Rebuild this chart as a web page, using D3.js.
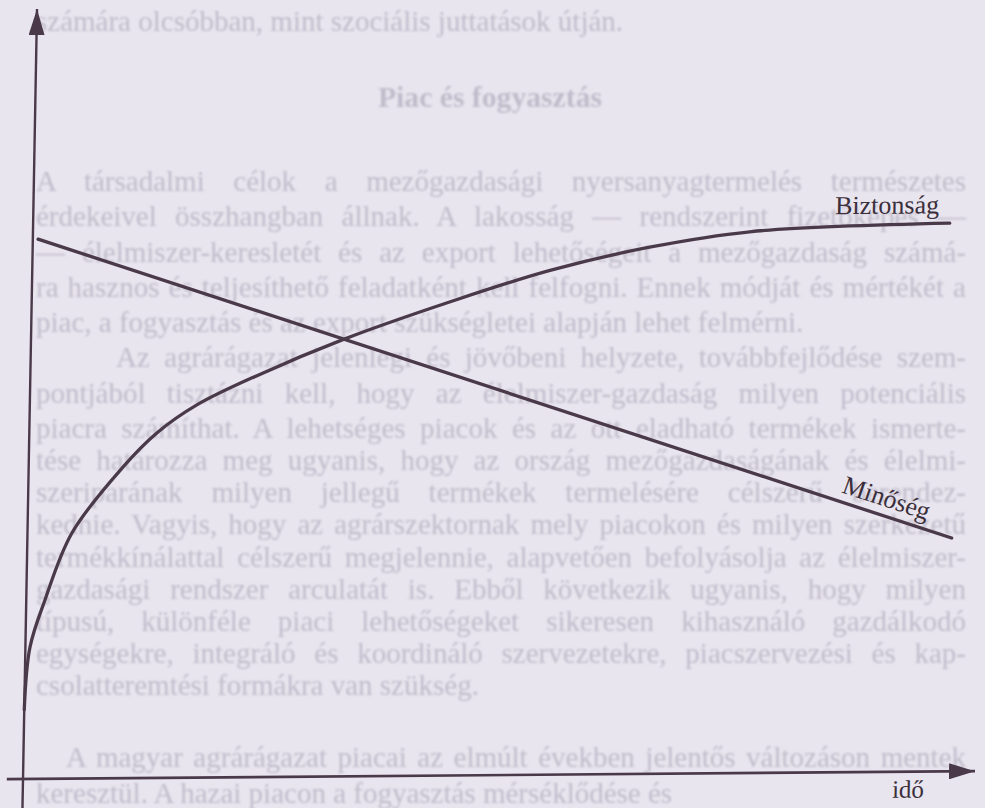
<!DOCTYPE html>
<html>
<head>
<meta charset="utf-8">
<script src="https://cdn.jsdelivr.net/npm/d3@7"></script>
<style>
  html, body { margin: 0; padding: 0; background: #e8e5ee; }
  svg { display: block; }
</style>
</head>
<body>
<svg id="chart" width="985" height="808"></svg>
<script>
// ---- data (time 0-100 along x, level 0-100 along y) ----

// Biztonság: fast rise, then flattening out
var bizTime  = [0, 0.48, 1.96, 4.67, 9.9, 13.4, 17.55, 24.1, 32.7, 43.9, 54.4, 64.8, 75.3, 96.3];
var bizLevel = [9, 17.1, 23.2, 31.9, 40.4, 44.8, 48.4, 52.3, 56.7, 61.5, 65.5, 68.4, 70.3, 71.2];

// Minőség: straight falling line
var minTime  = [0.55, 97.1];
var minLevel = [70.1, 30.3];

// axis extents
var axisTime  = [-1.7, 100];
var axisLevel = [-4, 100];

var seriesNames = ["Biztonság", "Minőség"];
var axisTitle = "idő";

// the book page printed behind the figure
var prevLine = ["számára olcsóbban, mint szociális juttatások útján."];
var heading = "Piac és fogyasztás";
var para1 = [
  "A társadalmi célok a mezőgazdasági nyersanyagtermelés természetes",
  "érdekeivel összhangban állnak. A lakosság — rendszerint fizetőképes —",
  "— élelmiszer-keresletét és az export lehetőségeit a mezőgazdaság számá-",
  "ra hasznos és teljesíthető feladatként kell felfogni. Ennek módját és mértékét a",
  "piac, a fogyasztás és az export szükségletei alapján lehet felmérni."
];
var para2 = [
  "Az agrárágazat jelenlegi és jövőbeni helyzete, továbbfejlődése szem-",
  "pontjából tisztázni kell, hogy az élelmiszer-gazdaság milyen potenciális",
  "piacra számíthat. A lehetséges piacok és az ott eladható termékek ismerte-",
  "tése határozza meg ugyanis, hogy az ország mezőgazdaságának és élelmi-",
  "szeriparának milyen jellegű termékek termelésére célszerű berendez-",
  "kednie. Vagyis, hogy az agrárszektornak mely piacokon és milyen szerkezetű",
  "termékkínálattal célszerű megjelennie, alapvetően befolyásolja az élelmiszer-",
  "gazdasági rendszer arculatát is. Ebből következik ugyanis, hogy milyen",
  "típusú, különféle piaci lehetőségeket sikeresen kihasználó gazdálkodó",
  "egységekre, integráló és koordináló szervezetekre, piacszervezési és kap-",
  "csolatteremtési formákra van szükség."
];
var para3 = [
  "A magyar agrárágazat piacai az elmúlt években jelentős változáson mentek",
  "keresztül. A hazai piacon a fogyasztás mérséklődése és"
];

// ---- drawing ----

var svg = d3.select("#chart");
var serif = '"Liberation Serif", "DejaVu Serif", serif';
var ink = "#4a3a49";

svg.append("rect")
  .attr("width", 985).attr("height", 808)
  .attr("fill", "#e8e5ee");

var defs = svg.append("defs");
defs.append("filter").attr("id", "soft")
  .append("feGaussianBlur").attr("stdDeviation", 0.9);

// faint page text
var page = svg.append("g")
  .attr("filter", "url(#soft)")
  .attr("fill", "#c1bccb")
  .style("font-family", serif)
  .style("font-size", "29px");

var left = 36, right = 966;
var rowY = d3.scaleLinear().domain([0, 7, 15, 18]).range([191, 438, 695, 803]);

// justify a line by widening the word gaps, like the typeset page
function justify(t, width) {
  var natural = t.node().getComputedTextLength();
  var gaps = (t.text().match(/ /g) || []).length;
  if (natural < width && gaps > 0) {
    t.attr("word-spacing", (width - natural) / gaps);
  } else {
    t.attr("textLength", width).attr("lengthAdjust", "spacingAndGlyphs");
  }
}

page.append("text").attr("x", left).attr("y", 31).text(prevLine[0]);
page.append("text")
  .attr("x", 490).attr("y", 107)
  .attr("text-anchor", "middle")
  .attr("textLength", 224).attr("lengthAdjust", "spacingAndGlyphs")
  .style("font-weight", "bold")
  .text(heading);

function drawPara(lines, firstRow, indent, closed) {
  lines.forEach(function(line, i) {
    var x0 = i === 0 ? left + indent : left;
    var t = page.append("text")
      .attr("x", x0)
      .attr("y", rowY(firstRow + i))
      .text(line);
    if (!(i === lines.length - 1)) justify(t, right - x0);
  });
}
drawPara(para1, 0, 0, true);
drawPara(para2, 5, 80, true);
drawPara(para3, 17, 30, false);

// figure: the scan is slightly skewed, so the axes frame is sheared a little
var g = svg.append("g").attr("transform", "matrix(1,-0.00826,-0.0182,1,23,779)");

var x = d3.scaleLinear().domain([0, 100]).range([0, 952]);
var y = d3.scaleLinear().domain([0, 100]).range([0, -770]);

defs.append("marker")
  .attr("id", "arrow")
  .attr("viewBox", "0 0 26 16")
  .attr("refX", 26).attr("refY", 8)
  .attr("markerWidth", 26).attr("markerHeight", 16)
  .attr("markerUnits", "userSpaceOnUse")
  .attr("orient", "auto")
  .append("path")
  .attr("d", "M0,0 L26,8 L0,16 Z")
  .attr("fill", ink);

// x axis (idő)
g.append("line")
  .attr("x1", x(axisTime[0])).attr("y1", y(0))
  .attr("x2", x(axisTime[1])).attr("y2", y(0))
  .attr("stroke", ink).attr("stroke-width", 2.6)
  .attr("marker-end", "url(#arrow)");

// y axis
g.append("line")
  .attr("x1", x(0)).attr("y1", y(axisLevel[0]))
  .attr("x2", x(0)).attr("y2", y(axisLevel[1]))
  .attr("stroke", ink).attr("stroke-width", 2.4)
  .attr("marker-end", "url(#arrow)");

var bizData = bizTime.map(function(t, i) { return { t: t, l: bizLevel[i] }; });
var minData = minTime.map(function(t, i) { return { t: t, l: minLevel[i] }; });

var line = d3.line()
  .x(function(d) { return x(d.t); })
  .y(function(d) { return y(d.l); })
  .curve(d3.curveCatmullRom.alpha(0.5));

g.append("path")
  .datum(bizData)
  .attr("d", line)
  .attr("fill", "none")
  .attr("stroke", ink).attr("stroke-width", 3.3)
  .attr("stroke-linecap", "round");

g.append("path")
  .datum(minData)
  .attr("d", d3.line().x(function(d) { return x(d.t); }).y(function(d) { return y(d.l); }))
  .attr("fill", "none")
  .attr("stroke", ink).attr("stroke-width", 3.3)
  .attr("stroke-linecap", "round");

// labels
var bizEnd = bizData[bizData.length - 1];
g.append("text")
  .attr("x", x(bizEnd.t) - 11).attr("y", y(bizEnd.l) - 10)
  .attr("text-anchor", "end")
  .attr("fill", "#3b2f3b")
  .style("font-family", serif).style("font-size", "26px")
  .text(seriesNames[0]);

// Minőség label sits on the line, turned with it
var angle = Math.atan2(y(minLevel[1]) - y(minLevel[0]), x(minTime[1]) - x(minTime[0])) * 180 / Math.PI;
var labT = 89.6;
var labL = minLevel[0] + (minLevel[1] - minLevel[0]) * (labT - minTime[0]) / (minTime[1] - minTime[0]);
g.append("text")
  .attr("transform", "translate(" + x(labT) + "," + y(labL) + ") rotate(" + angle + ")")
  .attr("y", -9)
  .attr("text-anchor", "middle")
  .attr("fill", "#3b2f3b")
  .style("font-family", serif).style("font-size", "26px")
  .text(seriesNames[1]);

g.append("text")
  .attr("x", x(93)).attr("y", y(0) + 26)
  .attr("text-anchor", "middle")
  .attr("fill", "#3b2f3b")
  .style("font-family", serif).style("font-size", "25px")
  .text(axisTitle);
</script>
</body>
</html>
